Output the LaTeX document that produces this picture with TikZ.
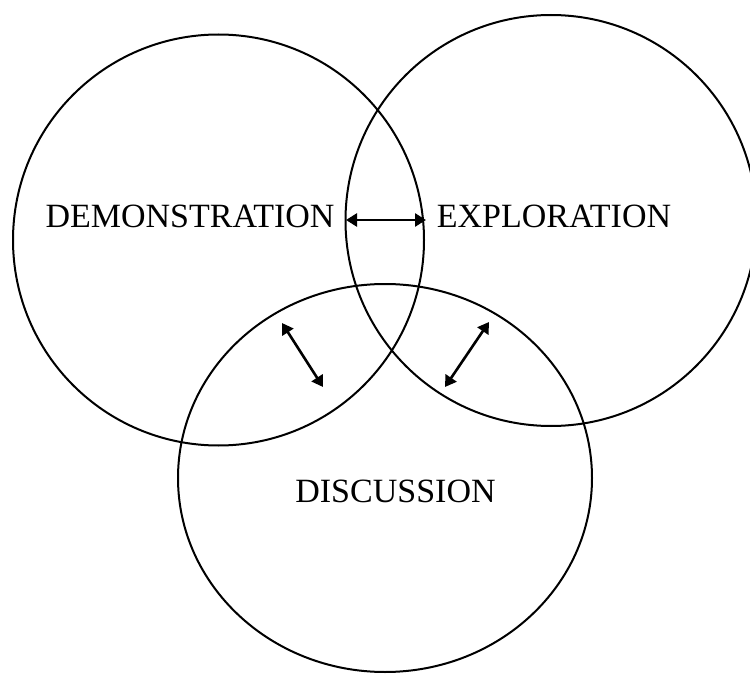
\documentclass[tikz,border=0pt]{standalone}
\usepackage{fontspec}
\setmainfont{Liberation Serif}
\usetikzlibrary{arrows.meta}
\begin{document}
\begin{tikzpicture}[x=1pt,y=-1pt,
  ring/.style={line width=2pt},
  label/.style={font=\fontsize{34}{36}\selectfont, anchor=base, inner sep=0pt},
  link/.style={line width=2.6pt, {Triangle[length=11pt,width=13pt]}-{Triangle[length=11pt,width=13pt]}}]
  \useasboundingbox (0,0) rectangle (750,674);
  % the three overlapping areas
  \draw[ring] (218.5,240) circle [radius=205.5pt];
  \draw[ring] (551,220.5) circle [radius=205.5pt];
  \draw[ring] (385,478) ellipse [x radius=207pt, y radius=194pt];
  % labels
  \node[label] (demo) at (190,227) {DEMONSTRATION};
  \node[label] (expl) at (554,227) {EXPLORATION};
  \node[label] (disc) at (395.5,502) {DISCUSSION};
  % two-way links between the areas
  \coordinate (dl) at (346,220);
  \coordinate (er) at (426,220);
  \coordinate (da) at (282,323);
  \coordinate (db) at (323,387);
  \coordinate (ea) at (489,322);
  \coordinate (eb) at (445,387);
  \draw[link] (dl) -- (er);
  \draw[link] (da) -- (db);
  \draw[link] (ea) -- (eb);
\end{tikzpicture}
\end{document}
